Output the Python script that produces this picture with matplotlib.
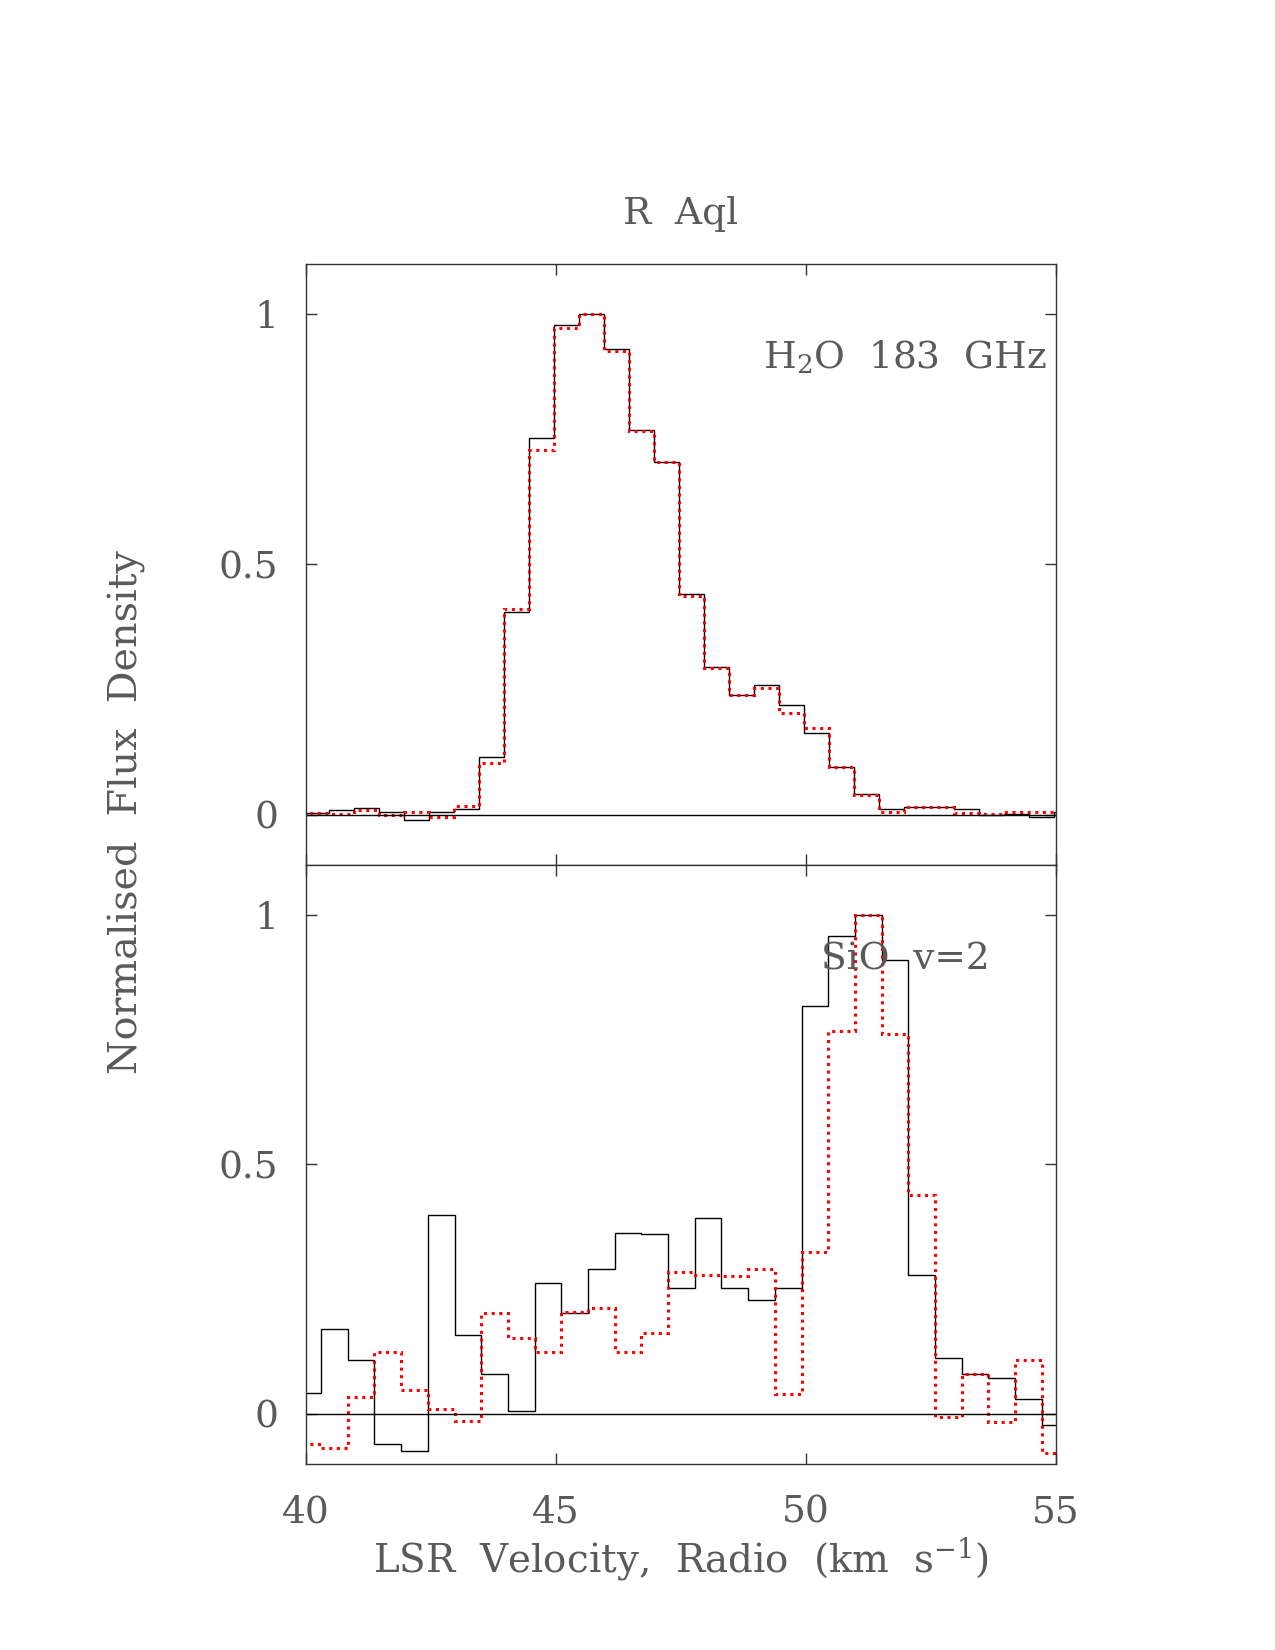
import numpy as np
import matplotlib
matplotlib.use("Agg")
from matplotlib import pyplot as plt

# channel centres (km/s)
h2o_vel = np.arange(40.21, 55.5, 0.5)
sio_vel = np.arange(40.035, 55.3, 0.534)

# H2O 183 GHz, normalised
h2o_black = [0.004, 0.009, 0.013, 0.006, -0.010, 0.006, 0.011, 0.114, 0.405, 0.752,
             0.979, 1.000, 0.931, 0.768, 0.705, 0.441, 0.295, 0.238, 0.259, 0.219,
             0.162, 0.095, 0.041, 0.011, 0.016, 0.016, 0.011, -0.001, 0.002, -0.005, 0.005]
h2o_red = [0.004, 0.002, 0.010, -0.001, 0.005, -0.004, 0.018, 0.102, 0.410, 0.729,
           0.972, 1.000, 0.926, 0.767, 0.705, 0.436, 0.292, 0.238, 0.253, 0.203,
           0.172, 0.096, 0.039, 0.005, 0.016, 0.016, 0.004, 0.001, 0.005, 0.005, 0.009]

# SiO v=2, normalised
sio_black = [0.042, 0.170, 0.107, -0.061, -0.075, 0.397, 0.158, 0.080, 0.005, 0.262,
             0.202, 0.290, 0.362, 0.360, 0.252, 0.391, 0.252, 0.228, 0.252, 0.817,
             0.957, 1.000, 0.908, 0.278, 0.112, 0.079, 0.072, 0.029, -0.023]
sio_red = [-0.061, -0.068, 0.034, 0.123, 0.047, 0.009, -0.014, 0.202, 0.151, 0.123,
           0.204, 0.212, 0.123, 0.162, 0.284, 0.277, 0.276, 0.290, 0.040, 0.323,
           0.767, 1.000, 0.760, 0.438, -0.006, 0.079, -0.016, 0.107, -0.079]

xticks = [40, 45, 50, 55]
yticks = [0, 0.5, 1]
ytick_labels = ["0", "0.5", "1"]

FONT = "DejaVu Serif"
TXT = "#5a5a5a"
plt.rcParams['font.family'] = [FONT]
plt.rcParams['mathtext.fontset'] = 'dejavuserif'


def edges_from(centres):
    c = np.asarray(centres)
    dv = c[1] - c[0]
    return np.append(c - dv / 2, c[-1] + dv / 2)


def setup(ax, show_x):
    ax.set_xlim(40, 55)
    ax.set_ylim(-0.1, 1.1)
    ax.set_xticks(xticks)
    ax.set_yticks(yticks)
    ax.set_yticklabels(ytick_labels)
    ax.tick_params(direction='in', length=8, width=1, top=True, right=True,
                   labelsize=27, labelcolor=TXT, color='#333333', pad=20)
    if not show_x:
        ax.tick_params(labelbottom=False)
    else:
        ax.tick_params(axis='x', pad=22)
    for s in ax.spines.values():
        s.set_color('#333333')
        s.set_linewidth(1)
    ax.axhline(0, color='black', lw=1)


fig = plt.figure(figsize=(12.75, 16.5), dpi=100)
ax1 = fig.add_axes([0.240, 0.476, 0.588, 0.364])
ax2 = fig.add_axes([0.240, 0.113, 0.588, 0.363])

ax1.stairs(h2o_black, edges_from(h2o_vel), color='black', lw=1)
ax1.stairs(h2o_red, edges_from(h2o_vel), color='red', lw=2.2, linestyle=(0, (1, 1.5)))
ax2.stairs(sio_black, edges_from(sio_vel), color='black', lw=1)
ax2.stairs(sio_red, edges_from(sio_vel), color='red', lw=2.2, linestyle=(0, (1, 1.5)))

setup(ax1, False)
setup(ax2, True)

ax1.text(0.988, 0.845, r"H$_2$O  183  GHz", transform=ax1.transAxes, ha='right',
         va='center', fontsize=27, color=TXT)
ax2.text(0.912, 0.842, "SiO  v=2", transform=ax2.transAxes, ha='right',
         va='center', fontsize=27, color=TXT)

fig.text(0.534, 0.870, "R  Aql", ha='center', va='center', fontsize=27, color=TXT)
fig.text(0.534, 0.055, r"LSR  Velocity,  Radio  (km  s$^{-1}$)", ha='center',
         va='center', fontsize=28, color=TXT)
fig.text(0.100, 0.508, "Normalised  Flux  Density", ha='center', va='center',
         rotation=90, fontsize=28.5, color=TXT)

fig.savefig("out.png", dpi=100)
